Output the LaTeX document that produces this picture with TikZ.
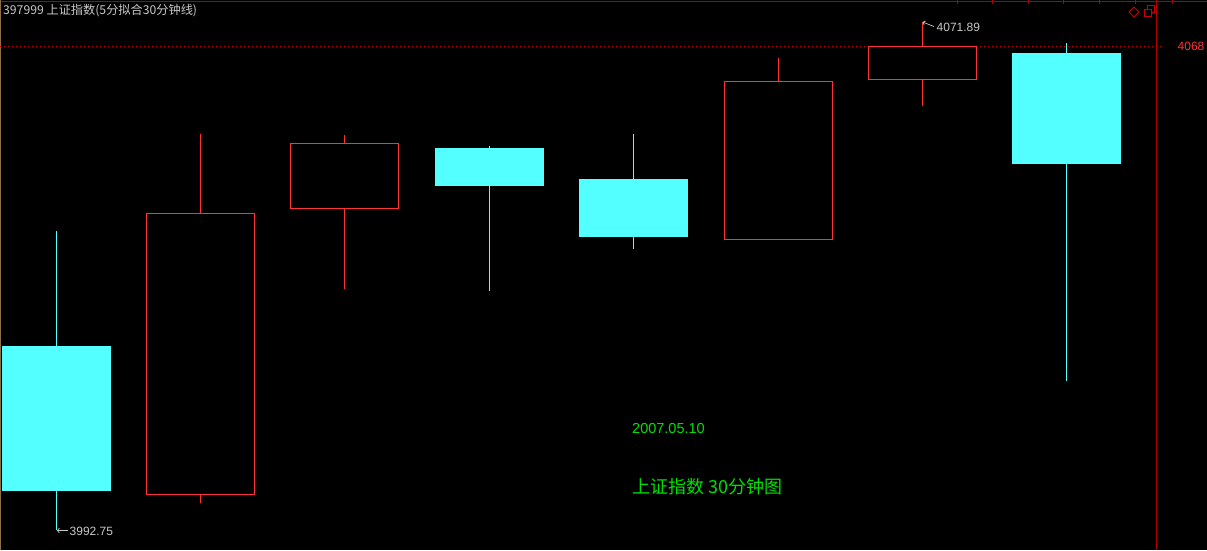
\documentclass[tikz,border=0pt]{standalone}
\usepackage{fontspec}
\usetikzlibrary{arrows.meta}
\setmainfont{Liberation Sans}
\newfontfamily\cjk{Noto Sans CJK SC}
\definecolor{upred}{RGB}{255,51,51}
\definecolor{dncyan}{RGB}{84,255,255}
\definecolor{framered}{RGB}{176,0,0}
\definecolor{dotred}{RGB}{200,0,0}
\definecolor{lblgray}{RGB}{200,200,200}
\definecolor{txtgreen}{RGB}{0,224,0}
\definecolor{leftbrown}{RGB}{140,110,70}
\tikzset{
  upbox/.style={draw=upred, line width=1pt},
  upwick/.style={draw=upred, line width=1pt},
  dnbox/.style={fill=dncyan},
  dnwick/.style={draw=dncyan, line width=1pt},
  lbl/.style={inner sep=0pt, anchor=west, text=lblgray, font=\fontsize{12}{12}\selectfont},
  framel/.style={draw=framered, line width=1pt},
}
\begin{document}
\begin{tikzpicture}[x=1pt,y=-1pt]
\fill[black] (0,0) rectangle (1207,550);
\useasboundingbox (0,0) rectangle (1207,550);
% frame
\draw[framel] (0,1.5) -- (1207,1.5);
\draw[draw=leftbrown, line width=1pt] (0.5,0) -- (0.5,550);
\draw[framel] (1156.5,0) -- (1156.5,550);
\foreach \tx in {957,992,1028,1063,1099,1135,1172} \draw[framel] (\tx,0) -- (\tx,4);
% dotted price line
\draw[draw=dotred, line width=1pt, dash pattern=on 1pt off 3pt] (0,46.5) -- (1164,46.5);
\node[inner sep=0pt, anchor=west, text=upred, font=\fontsize{12}{12}\selectfont] (p4068) at (1177.5,46.5) {4068};
% icons
\draw[draw=dotred, line width=0.8pt] (1129,12) -- (1134,7) -- (1139,12) -- (1134,17) -- cycle;
\draw[draw=dotred, line width=0.8pt] (1147,5.5) rectangle (1154,12.5);
\fill[black] (1144,9) rectangle (1151,16);
\draw[draw=dotred, line width=0.8pt] (1144,9) rectangle (1151,16);
% title
\node[inner sep=0pt, anchor=west, text=lblgray, font=\cjk\fontsize{12.2}{12.2}\selectfont] (title) at (3,10.5) {397999 上证指数(5分拟合30分钟线)};
% down (cyan) candles: xl/xr/bodytop/bodybottom/wicktop/wickbottom
\foreach \xl/\xr/\bt/\bb/\wt/\wb in {2/111/346/491/231/530, 435/544/148/186/146/291, 579/688/179/237/134/249, 1012/1121/53/164/43/381}{
  \draw[dnwick] ({(\xl+\xr)/2},\wt) -- ({(\xl+\xr)/2},\wb);
  \fill[dnbox] (\xl,\bt) rectangle (\xr,\bb);
}
% up (red) candles
\foreach \xl/\xr/\bt/\bb/\wt/\wb in {146.5/254.5/213.5/494.5/134/503, 290.5/398.5/143.5/208.5/135/289, 724.5/832.5/81.5/239.5/58/239.5, 868.5/976.5/46.5/79.5/22/106}{
  \draw[upwick] ({(\xl+\xr)/2},\wt) -- ({(\xl+\xr)/2},\bt);
  \draw[upwick] ({(\xl+\xr)/2},\bb) -- ({(\xl+\xr)/2},\wb);
  \draw[upbox] (\xl,\bt) rectangle (\xr,\bb);
}
% extreme labels
\coordinate (hi) at (922.5,22);
\coordinate (hit) at (934,26.5);
\draw[draw=lblgray, line width=0.7pt, -{Straight Barb[length=2pt,width=4pt]}] (hit) -- (hi);
\node[lbl] (hilbl) at (936.5,27) {4071.89};
\coordinate (lo) at (57,530.5);
\coordinate (lot) at (68,530.5);
\draw[draw=lblgray, line width=0.7pt, -{Straight Barb[length=2pt,width=5pt]}] (lot) -- (lo);
\node[lbl] (lolbl) at (69.5,531) {3992.75};
% bottom texts
\node[inner sep=0pt, anchor=west, text=txtgreen, font=\fontsize{14.5}{14.5}\selectfont] (date) at (632,428) {2007.05.10};
\node[inner sep=0pt, anchor=west, text=txtgreen, font=\cjk\fontsize{18}{18}\selectfont] (cap) at (632,487) {上证指数 30分钟图};
\end{tikzpicture}
\end{document}
